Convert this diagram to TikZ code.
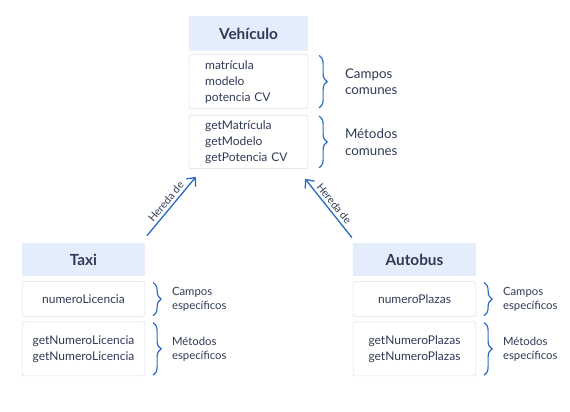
\documentclass[tikz,border=0pt]{standalone}
\usepackage{fontspec}
\setmainfont{Lato}
\usetikzlibrary{arrows.meta, positioning, decorations.pathreplacing}
\definecolor{ink}{HTML}{2F3A56}
\definecolor{headblue}{HTML}{E3EDFB}
\definecolor{linkblue}{HTML}{2A6BC4}
\definecolor{edgegray}{HTML}{DADDE2}

\begin{document}
\begin{tikzpicture}[
  x=0.75pt, y=-0.75pt,
  node distance=3pt,
  head/.style={fill=headblue, text=ink, inner sep=0pt,
               font=\bfseries\fontsize{11.5}{14}\selectfont},
  box/.style={draw=edgegray, rounded corners=1.5pt, text=ink, inner sep=0pt,
              font=\fontsize{9}{12}\selectfont},
  side/.style={text=ink, align=left, inner sep=0pt,
               font=\fontsize{8.5}{10.5}\selectfont},
  curly/.style={draw=linkblue, line width=0.9pt,
                decorate, decoration={brace, amplitude=6pt}},
  inherit/.style={draw=linkblue, line width=1pt, -{Straight Barb[length=5pt, width=9pt]}},
  >={Stealth[]}
]
\useasboundingbox (0,0) rectangle (570,411);

% clase base
\node[head, minimum width=89pt, minimum height=26pt] (veh) at (248.5,33.5) {Vehículo};
\node[box, below=2.5pt of veh, text width=65pt, inner xsep=12pt, minimum height=40.5pt,
      align=left] (vfields) {matrícula\\modelo\\potencia CV};
\node[box, below=4.5pt of vfields, text width=65pt, inner xsep=12pt, minimum height=40pt,
      align=left] (vmeth) {getMatrícula\\getModelo\\getPotencia CV};

% subclases
\node[head, minimum width=92pt, minimum height=25pt] (taxi) at (83.5,259.5) {Taxi};
\node[box, below=3.75pt of taxi, minimum width=92pt, minimum height=26pt] (tfields)
  {numeroLicencia};
\node[box, below=3.75pt of tfields, minimum width=92pt, minimum height=40.5pt,
      align=center] (tmeth) {getNumeroLicencia\\getNumeroLicencia};

\node[head, minimum width=92pt, minimum height=25pt] (bus) at (414.5,259.5) {Autobus};
\node[box, below=3.75pt of bus, minimum width=92pt, minimum height=26pt] (bfields)
  {numeroPlazas};
\node[box, below=3.75pt of bfields, minimum width=92pt, minimum height=40.5pt,
      align=center] (bmeth) {getNumeroPlazas\\getNumeroPlazas};

% llaves y etiquetas
\draw[curly] ([shift={(11,1)}]vfields.north east) -- ([shift={(11,-1)}]vfields.south east);
\draw[curly] ([shift={(11,1)}]vmeth.north east) -- ([shift={(11,-1)}]vmeth.south east);
\node[side, font=\fontsize{10}{12.5}\selectfont, right=27.5pt of vfields] (vfl) {Campos\\comunes};
\node[side, font=\fontsize{10}{12.5}\selectfont, right=27.5pt of vmeth] (vml) {Métodos\\comunes};

\draw[curly] ([shift={(8,1)}]tfields.north east) -- ([shift={(8,-1)}]tfields.south east);
\draw[curly] ([shift={(8,1)}]tmeth.north east) -- ([shift={(8,-1)}]tmeth.south east);
\node[side, right=20pt of tfields] (tfl) {Campos\\específicos};
\node[side, right=20pt of tmeth] (tml) {Métodos\\específicos};

\draw[curly] ([shift={(8,1)}]bfields.north east) -- ([shift={(8,-1)}]bfields.south east);
\draw[curly] ([shift={(8,1)}]bmeth.north east) -- ([shift={(8,-1)}]bmeth.south east);
\node[side, right=20pt of bfields] (bfl) {Campos\\específicos};
\node[side, right=20pt of bmeth] (bml) {Métodos\\específicos};

% herencia
\coordinate (tstart) at ([shift={(2,-7)}]taxi.north east);
\coordinate (tend) at ([shift={(7,8)}]vmeth.south west);
\coordinate (bstart) at ([shift={(-1,-5)}]bus.north west);
\coordinate (bend) at ([shift={(-3,10)}]vmeth.south east);
\draw[inherit] (tstart) -- node[midway, above, sloped, inner sep=2pt, text=ink,
  font=\fontsize{8}{10}\selectfont] {Hereda de} (tend);
\draw[inherit] (bstart) -- node[midway, above, sloped, inner sep=2pt, text=ink,
  font=\fontsize{8}{10}\selectfont] {Hereda de} (bend);
\end{tikzpicture}
\end{document}
